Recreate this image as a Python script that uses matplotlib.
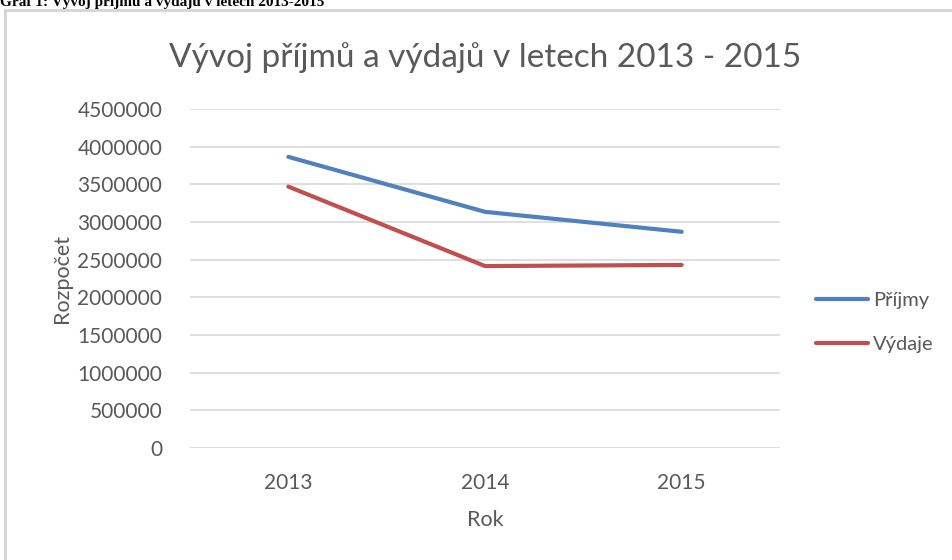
import matplotlib.pyplot as plt
from matplotlib.patches import Rectangle

years = ["2013", "2014", "2015"]
prijmy = [3865000, 3135000, 2870000]
vydaje = [3470000, 2415000, 2430000]
yticks = [0, 500000, 1000000, 1500000, 2000000, 2500000, 3000000, 3500000, 4000000, 4500000]

plt.rcParams['font.family'] = ['Lato', 'DejaVu Sans']
grey = '#595959'

fig = plt.figure(figsize=(9.53, 5.6), dpi=100)
fig.patches.append(Rectangle((5/953, -0.1), 1.1, 1 - 10/560 + 0.1, transform=fig.transFigure,
                             fill=False, edgecolor='#d4d4d4', lw=2))
fig.text(0.0, 1 - 6/560, "Graf 1: Vývoj příjmů a výdajů v letech 2013-2015", family='Liberation Serif',
         weight='bold', fontsize=11, va='baseline', ha='left', color='black')

ax = fig.add_axes([190/953, 112/560, 590/953, 339/560])
x = range(len(years))
ax.plot(x, prijmy, color='#4F81BD', lw=3, solid_capstyle='round', label='Příjmy')
ax.plot(x, vydaje, color='#C0504D', lw=3, solid_capstyle='round', label='Výdaje')
ax.set_xlim(-0.5, 2.5)
ax.set_ylim(0, 4500000)
ax.set_yticks(yticks)
ax.set_yticklabels([str(v) for v in yticks])
ax.set_xticks(list(x))
ax.set_xticklabels(years)
ax.grid(axis='y', color='#d9d9d9', lw=1.2)
ax.set_axisbelow(True)
for s in ax.spines.values():
    s.set_visible(False)
ax.tick_params(length=0, labelsize=15, labelcolor=grey)
ax.tick_params(axis='y', pad=20)
ax.tick_params(axis='x', pad=18)
ax.set_xlabel("Rok", fontsize=15.5, color=grey, labelpad=12)
ax.set_ylabel("Rozpočet", fontsize=15.5, color=grey, labelpad=4)
ax.set_title("Vývoj příjmů a výdajů v letech 2013 - 2015", fontsize=24, color=grey, pad=30)
ax.legend(loc='center left', bbox_to_anchor=(1.03, 0.37), frameon=False, fontsize=14.5,
          labelcolor=grey, handlelength=2.6, handletextpad=0.25, labelspacing=1.3)

fig.savefig("out.png", dpi=100)
